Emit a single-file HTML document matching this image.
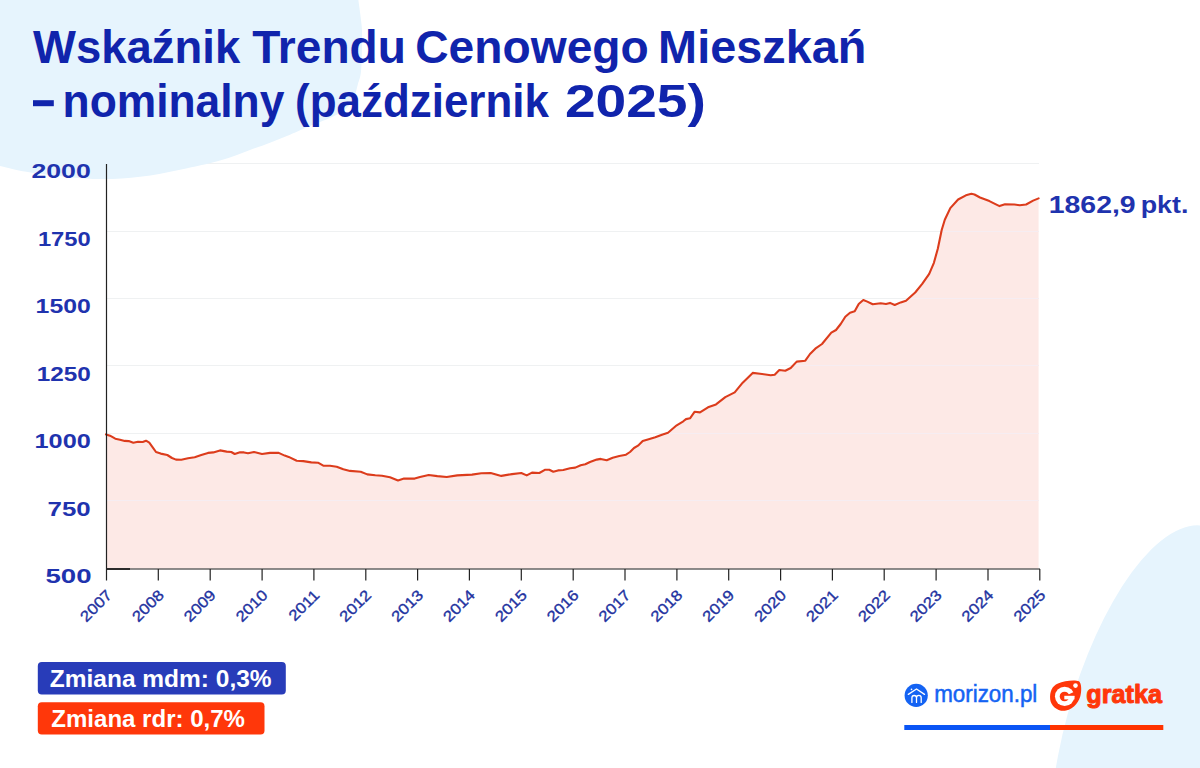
<!DOCTYPE html>
<html><head><meta charset="utf-8"><style>
html,body{margin:0;padding:0;width:1200px;height:768px;overflow:hidden;background:#fff}
svg{display:block}
text{font-family:"Liberation Sans",sans-serif}
</style></head><body>
<svg width="1200" height="768" viewBox="0 0 1200 768">
<rect width="1200" height="768" fill="#fff"/>
<g stroke="#eff1f2" stroke-width="1"><line x1="107" y1="163.5" x2="1039" y2="163.5"/><line x1="107" y1="231.5" x2="1039" y2="231.5"/><line x1="107" y1="298.5" x2="1039" y2="298.5"/><line x1="107" y1="365.5" x2="1039" y2="365.5"/><line x1="107" y1="433.5" x2="1039" y2="433.5"/><line x1="107" y1="500.5" x2="1039" y2="500.5"/></g>
<path d="M358.4,-2.0 C358.4,-1.7 357.8,-4.7 358.4,0.0 C358.9,4.7 361.1,18.5 361.7,26.0 C362.3,33.5 362.1,37.4 362.0,45.0 C361.9,52.6 361.7,65.0 361.0,71.6 C360.3,78.2 359.1,79.9 357.8,84.6 C356.5,89.3 355.5,95.7 353.2,100.0 C350.9,104.3 347.5,107.7 344.0,110.5 C340.5,113.3 336.0,115.1 332.0,117.0 C328.0,118.9 323.7,120.5 320.0,122.0 C316.3,123.5 315.0,123.9 310.0,126.0 C305.0,128.1 296.7,131.9 290.0,134.7 C283.3,137.5 276.7,140.1 270.0,142.7 C263.3,145.2 258.3,147.0 250.0,150.0 C241.7,153.0 231.7,157.2 220.0,160.5 C208.3,163.8 193.3,167.0 180.0,169.7 C166.7,172.4 154.5,175.2 140.0,176.7 C125.5,178.2 111.0,179.6 93.0,178.9 C75.0,178.2 47.5,174.8 32.0,172.7 C16.5,170.5 5.7,167.3 0.0,166.0 C-5.7,164.7 -1.7,165.2 -2.0,165.0 L-2,-2 Z" fill="#e6f4fd"/>
<ellipse cx="1148.94" cy="736.46" rx="84.29" ry="217.64" transform="rotate(15.21 1148.94 736.46)" fill="#e6f4fd"/>
<path d="M106.0,434.4 L110.0,435.7 L115.3,438.7 L120.0,439.7 L124.7,440.9 L128.7,441.1 L133.3,442.7 L138.0,441.7 L142.7,442.0 L146.0,440.7 L149.3,442.7 L152.7,447.3 L156.0,452.0 L160.7,453.6 L167.3,455.0 L172.0,458.0 L176.0,459.6 L181.3,459.7 L188.0,458.3 L194.7,457.3 L201.3,455.0 L208.0,452.9 L213.3,452.4 L220.0,450.4 L226.7,451.6 L231.3,452.0 L234.7,454.0 L240.0,452.3 L244.0,452.4 L248.0,453.3 L254.0,452.0 L262.0,454.0 L270.0,452.9 L278.7,452.9 L284.7,455.6 L288.7,456.9 L296.7,460.7 L303.3,461.1 L311.3,462.4 L318.0,462.7 L323.3,465.7 L330.0,465.7 L336.7,466.7 L343.3,469.3 L350.0,470.9 L360.7,471.7 L367.3,474.4 L375.3,475.3 L382.0,475.7 L390.0,477.3 L398.0,480.4 L404.0,478.6 L414.7,478.6 L420.0,477.0 L428.7,475.0 L437.3,476.1 L446.7,477.0 L457.3,475.4 L472.0,474.6 L481.3,473.3 L490.7,473.0 L501.3,475.9 L512.0,474.1 L521.3,473.0 L526.7,475.4 L532.0,472.6 L539.3,473.0 L545.3,469.7 L549.3,469.7 L553.3,471.7 L558.0,470.4 L563.3,470.0 L570.0,468.3 L575.3,467.6 L580.7,465.3 L585.3,464.3 L590.0,462.0 L596.7,459.6 L600.7,458.9 L606.7,460.3 L612.7,457.7 L619.3,456.0 L626.0,454.7 L630.0,452.0 L634.0,448.0 L638.0,445.7 L642.7,441.1 L648.7,439.3 L655.3,437.3 L662.0,434.7 L668.0,432.7 L676.7,425.3 L683.3,421.3 L686.0,419.1 L690.0,418.3 L694.7,411.7 L700.0,412.4 L708.0,407.3 L716.0,404.4 L725.3,397.1 L734.7,392.4 L742.7,382.7 L752.7,372.9 L760.0,373.7 L770.7,375.3 L774.7,374.7 L779.3,370.0 L785.3,370.7 L790.7,368.0 L796.7,361.6 L805.3,360.7 L810.0,354.0 L815.3,348.7 L822.0,344.0 L831.3,332.7 L836.0,330.0 L840.7,324.0 L845.3,316.7 L850.0,312.7 L854.7,311.3 L858.7,304.0 L863.3,300.0 L867.3,301.6 L872.7,304.3 L880.7,303.3 L886.0,304.0 L890.0,302.9 L894.7,305.0 L900.7,302.4 L906.0,300.7 L915.2,292.5 L922.2,283.9 L929.2,273.8 L933.9,262.8 L937.8,248.8 L941.7,230.0 L944.8,219.8 L950.3,208.1 L958.1,199.5 L965.9,195.3 L971.4,193.8 L974.5,194.5 L980.0,197.5 L989.4,201.1 L999.5,206.1 L1005.0,204.2 L1014.4,204.5 L1019.8,205.3 L1026.1,204.5 L1033.1,200.6 L1038.6,198.4 L1038.6,569 L106,569 Z" fill="#fde9e6"/>
<clipPath id="ca"><path d="M106.0,434.4 L110.0,435.7 L115.3,438.7 L120.0,439.7 L124.7,440.9 L128.7,441.1 L133.3,442.7 L138.0,441.7 L142.7,442.0 L146.0,440.7 L149.3,442.7 L152.7,447.3 L156.0,452.0 L160.7,453.6 L167.3,455.0 L172.0,458.0 L176.0,459.6 L181.3,459.7 L188.0,458.3 L194.7,457.3 L201.3,455.0 L208.0,452.9 L213.3,452.4 L220.0,450.4 L226.7,451.6 L231.3,452.0 L234.7,454.0 L240.0,452.3 L244.0,452.4 L248.0,453.3 L254.0,452.0 L262.0,454.0 L270.0,452.9 L278.7,452.9 L284.7,455.6 L288.7,456.9 L296.7,460.7 L303.3,461.1 L311.3,462.4 L318.0,462.7 L323.3,465.7 L330.0,465.7 L336.7,466.7 L343.3,469.3 L350.0,470.9 L360.7,471.7 L367.3,474.4 L375.3,475.3 L382.0,475.7 L390.0,477.3 L398.0,480.4 L404.0,478.6 L414.7,478.6 L420.0,477.0 L428.7,475.0 L437.3,476.1 L446.7,477.0 L457.3,475.4 L472.0,474.6 L481.3,473.3 L490.7,473.0 L501.3,475.9 L512.0,474.1 L521.3,473.0 L526.7,475.4 L532.0,472.6 L539.3,473.0 L545.3,469.7 L549.3,469.7 L553.3,471.7 L558.0,470.4 L563.3,470.0 L570.0,468.3 L575.3,467.6 L580.7,465.3 L585.3,464.3 L590.0,462.0 L596.7,459.6 L600.7,458.9 L606.7,460.3 L612.7,457.7 L619.3,456.0 L626.0,454.7 L630.0,452.0 L634.0,448.0 L638.0,445.7 L642.7,441.1 L648.7,439.3 L655.3,437.3 L662.0,434.7 L668.0,432.7 L676.7,425.3 L683.3,421.3 L686.0,419.1 L690.0,418.3 L694.7,411.7 L700.0,412.4 L708.0,407.3 L716.0,404.4 L725.3,397.1 L734.7,392.4 L742.7,382.7 L752.7,372.9 L760.0,373.7 L770.7,375.3 L774.7,374.7 L779.3,370.0 L785.3,370.7 L790.7,368.0 L796.7,361.6 L805.3,360.7 L810.0,354.0 L815.3,348.7 L822.0,344.0 L831.3,332.7 L836.0,330.0 L840.7,324.0 L845.3,316.7 L850.0,312.7 L854.7,311.3 L858.7,304.0 L863.3,300.0 L867.3,301.6 L872.7,304.3 L880.7,303.3 L886.0,304.0 L890.0,302.9 L894.7,305.0 L900.7,302.4 L906.0,300.7 L915.2,292.5 L922.2,283.9 L929.2,273.8 L933.9,262.8 L937.8,248.8 L941.7,230.0 L944.8,219.8 L950.3,208.1 L958.1,199.5 L965.9,195.3 L971.4,193.8 L974.5,194.5 L980.0,197.5 L989.4,201.1 L999.5,206.1 L1005.0,204.2 L1014.4,204.5 L1019.8,205.3 L1026.1,204.5 L1033.1,200.6 L1038.6,198.4 L1038.6,569 L106,569 Z"/></clipPath><g stroke="#f6edf2" stroke-width="1" clip-path="url(#ca)"><line x1="107" y1="163.5" x2="1039" y2="163.5"/><line x1="107" y1="231.5" x2="1039" y2="231.5"/><line x1="107" y1="298.5" x2="1039" y2="298.5"/><line x1="107" y1="365.5" x2="1039" y2="365.5"/><line x1="107" y1="433.5" x2="1039" y2="433.5"/><line x1="107" y1="500.5" x2="1039" y2="500.5"/></g>
<path d="M106.0,434.4 L110.0,435.7 L115.3,438.7 L120.0,439.7 L124.7,440.9 L128.7,441.1 L133.3,442.7 L138.0,441.7 L142.7,442.0 L146.0,440.7 L149.3,442.7 L152.7,447.3 L156.0,452.0 L160.7,453.6 L167.3,455.0 L172.0,458.0 L176.0,459.6 L181.3,459.7 L188.0,458.3 L194.7,457.3 L201.3,455.0 L208.0,452.9 L213.3,452.4 L220.0,450.4 L226.7,451.6 L231.3,452.0 L234.7,454.0 L240.0,452.3 L244.0,452.4 L248.0,453.3 L254.0,452.0 L262.0,454.0 L270.0,452.9 L278.7,452.9 L284.7,455.6 L288.7,456.9 L296.7,460.7 L303.3,461.1 L311.3,462.4 L318.0,462.7 L323.3,465.7 L330.0,465.7 L336.7,466.7 L343.3,469.3 L350.0,470.9 L360.7,471.7 L367.3,474.4 L375.3,475.3 L382.0,475.7 L390.0,477.3 L398.0,480.4 L404.0,478.6 L414.7,478.6 L420.0,477.0 L428.7,475.0 L437.3,476.1 L446.7,477.0 L457.3,475.4 L472.0,474.6 L481.3,473.3 L490.7,473.0 L501.3,475.9 L512.0,474.1 L521.3,473.0 L526.7,475.4 L532.0,472.6 L539.3,473.0 L545.3,469.7 L549.3,469.7 L553.3,471.7 L558.0,470.4 L563.3,470.0 L570.0,468.3 L575.3,467.6 L580.7,465.3 L585.3,464.3 L590.0,462.0 L596.7,459.6 L600.7,458.9 L606.7,460.3 L612.7,457.7 L619.3,456.0 L626.0,454.7 L630.0,452.0 L634.0,448.0 L638.0,445.7 L642.7,441.1 L648.7,439.3 L655.3,437.3 L662.0,434.7 L668.0,432.7 L676.7,425.3 L683.3,421.3 L686.0,419.1 L690.0,418.3 L694.7,411.7 L700.0,412.4 L708.0,407.3 L716.0,404.4 L725.3,397.1 L734.7,392.4 L742.7,382.7 L752.7,372.9 L760.0,373.7 L770.7,375.3 L774.7,374.7 L779.3,370.0 L785.3,370.7 L790.7,368.0 L796.7,361.6 L805.3,360.7 L810.0,354.0 L815.3,348.7 L822.0,344.0 L831.3,332.7 L836.0,330.0 L840.7,324.0 L845.3,316.7 L850.0,312.7 L854.7,311.3 L858.7,304.0 L863.3,300.0 L867.3,301.6 L872.7,304.3 L880.7,303.3 L886.0,304.0 L890.0,302.9 L894.7,305.0 L900.7,302.4 L906.0,300.7 L915.2,292.5 L922.2,283.9 L929.2,273.8 L933.9,262.8 L937.8,248.8 L941.7,230.0 L944.8,219.8 L950.3,208.1 L958.1,199.5 L965.9,195.3 L971.4,193.8 L974.5,194.5 L980.0,197.5 L989.4,201.1 L999.5,206.1 L1005.0,204.2 L1014.4,204.5 L1019.8,205.3 L1026.1,204.5 L1033.1,200.6 L1038.6,198.4" fill="none" stroke="#dc3c1c" stroke-width="2.1" stroke-linejoin="round" stroke-linecap="round"/>
<line x1="106.5" y1="164" x2="106.5" y2="569" stroke="#222" stroke-width="1.2"/>
<line x1="106" y1="569" x2="1040" y2="569" stroke="#666" stroke-width="1.6"/>
<line x1="106" y1="569" x2="130" y2="569" stroke="#222" stroke-width="1.8"/>
<g stroke="#222" stroke-width="1.2"><line x1="106.5" y1="569" x2="106.5" y2="580.5"/><line x1="158.3" y1="569" x2="158.3" y2="580.5"/><line x1="210.2" y1="569" x2="210.2" y2="580.5"/><line x1="262.1" y1="569" x2="262.1" y2="580.5"/><line x1="313.9" y1="569" x2="313.9" y2="580.5"/><line x1="365.8" y1="569" x2="365.8" y2="580.5"/><line x1="417.6" y1="569" x2="417.6" y2="580.5"/><line x1="469.4" y1="569" x2="469.4" y2="580.5"/><line x1="521.3" y1="569" x2="521.3" y2="580.5"/><line x1="573.2" y1="569" x2="573.2" y2="580.5"/><line x1="625.0" y1="569" x2="625.0" y2="580.5"/><line x1="676.9" y1="569" x2="676.9" y2="580.5"/><line x1="728.7" y1="569" x2="728.7" y2="580.5"/><line x1="780.6" y1="569" x2="780.6" y2="580.5"/><line x1="832.4" y1="569" x2="832.4" y2="580.5"/><line x1="884.2" y1="569" x2="884.2" y2="580.5"/><line x1="936.1" y1="569" x2="936.1" y2="580.5"/><line x1="988.0" y1="569" x2="988.0" y2="580.5"/><line x1="1039.8" y1="569" x2="1039.8" y2="580.5"/></g>
<text x="33.00" y="63" font-size="47" font-weight="bold" fill="#1024ac" textLength="207.18" lengthAdjust="spacingAndGlyphs">Wskaźnik</text><text x="252.20" y="63" font-size="47" font-weight="bold" fill="#1024ac" textLength="153.67" lengthAdjust="spacingAndGlyphs">Trendu</text><text x="415.28" y="63" font-size="47" font-weight="bold" fill="#1024ac" textLength="233.54" lengthAdjust="spacingAndGlyphs">Cenowego</text><text x="658.12" y="63" font-size="47" font-weight="bold" fill="#1024ac" textLength="208.26" lengthAdjust="spacingAndGlyphs">Mieszkań</text><rect x="33" y="100.2" width="20.8" height="6" fill="#1024ac"/><text x="62.55" y="117" font-size="47" font-weight="bold" fill="#1024ac" textLength="221.85" lengthAdjust="spacingAndGlyphs">nominalny</text><text x="295.10" y="117" font-size="47" font-weight="bold" fill="#1024ac" textLength="253.81" lengthAdjust="spacingAndGlyphs">(październik</text><text x="564.90" y="117" font-size="47" font-weight="bold" fill="#1024ac" textLength="141.01" lengthAdjust="spacingAndGlyphs">2025)</text>
<text x="31.40" y="178.4" font-size="20" font-weight="bold" fill="#1f33ae" textLength="59.39" lengthAdjust="spacingAndGlyphs">2000</text><text x="37.90" y="245.8" font-size="20" font-weight="bold" fill="#1f33ae" textLength="52.89" lengthAdjust="spacingAndGlyphs">1750</text><text x="35.60" y="313.2" font-size="20" font-weight="bold" fill="#1f33ae" textLength="55.19" lengthAdjust="spacingAndGlyphs">1500</text><text x="36.70" y="380.7" font-size="20" font-weight="bold" fill="#1f33ae" textLength="54.09" lengthAdjust="spacingAndGlyphs">1250</text><text x="34.50" y="448.1" font-size="20" font-weight="bold" fill="#1f33ae" textLength="56.29" lengthAdjust="spacingAndGlyphs">1000</text><text x="47.60" y="515.5" font-size="20" font-weight="bold" fill="#1f33ae" textLength="43.16" lengthAdjust="spacingAndGlyphs">750</text><text x="45.40" y="582.9" font-size="20" font-weight="bold" fill="#1f33ae" textLength="46.16" lengthAdjust="spacingAndGlyphs">500</text>
<g fill="#22329f" stroke="#22329f" stroke-width="0.35"><text transform="translate(113.0,596) rotate(-45) scale(1.13,1)" text-anchor="end" font-size="15">2007</text><text transform="translate(164.8,596) rotate(-45) scale(1.13,1)" text-anchor="end" font-size="15">2008</text><text transform="translate(216.7,596) rotate(-45) scale(1.13,1)" text-anchor="end" font-size="15">2009</text><text transform="translate(268.6,596) rotate(-45) scale(1.13,1)" text-anchor="end" font-size="15">2010</text><text transform="translate(320.4,596) rotate(-45) scale(1.13,1)" text-anchor="end" font-size="15">2011</text><text transform="translate(372.2,596) rotate(-45) scale(1.13,1)" text-anchor="end" font-size="15">2012</text><text transform="translate(424.1,596) rotate(-45) scale(1.13,1)" text-anchor="end" font-size="15">2013</text><text transform="translate(475.9,596) rotate(-45) scale(1.13,1)" text-anchor="end" font-size="15">2014</text><text transform="translate(527.8,596) rotate(-45) scale(1.13,1)" text-anchor="end" font-size="15">2015</text><text transform="translate(579.7,596) rotate(-45) scale(1.13,1)" text-anchor="end" font-size="15">2016</text><text transform="translate(631.5,596) rotate(-45) scale(1.13,1)" text-anchor="end" font-size="15">2017</text><text transform="translate(683.4,596) rotate(-45) scale(1.13,1)" text-anchor="end" font-size="15">2018</text><text transform="translate(735.2,596) rotate(-45) scale(1.13,1)" text-anchor="end" font-size="15">2019</text><text transform="translate(787.1,596) rotate(-45) scale(1.13,1)" text-anchor="end" font-size="15">2020</text><text transform="translate(838.9,596) rotate(-45) scale(1.13,1)" text-anchor="end" font-size="15">2021</text><text transform="translate(890.8,596) rotate(-45) scale(1.13,1)" text-anchor="end" font-size="15">2022</text><text transform="translate(942.6,596) rotate(-45) scale(1.13,1)" text-anchor="end" font-size="15">2023</text><text transform="translate(994.5,596) rotate(-45) scale(1.13,1)" text-anchor="end" font-size="15">2024</text><text transform="translate(1046.3,596) rotate(-45) scale(1.13,1)" text-anchor="end" font-size="15">2025</text></g>
<text x="1048.70" y="213" font-size="24" font-weight="bold" fill="#1f33ae" textLength="87.01" lengthAdjust="spacingAndGlyphs">1862,9</text><text x="1140.70" y="213" font-size="24" font-weight="bold" fill="#1f33ae" textLength="47.77" lengthAdjust="spacingAndGlyphs">pkt.</text>
<rect x="37.8" y="662" width="248" height="32.4" rx="4" fill="#283cb9"/>
<rect x="37.8" y="702.2" width="226.7" height="32.3" rx="4" fill="#ff370a"/>
<text x="49.80" y="686.5" font-size="23" font-weight="bold" fill="#fff" textLength="221.84" lengthAdjust="spacingAndGlyphs">Zmiana mdm: 0,3%</text>
<text x="51.30" y="726.5" font-size="23" font-weight="bold" fill="#fff" textLength="193.64" lengthAdjust="spacingAndGlyphs">Zmiana rdr: 0,7%</text>
<circle cx="916.2" cy="695.4" r="11.6" fill="#1463f3"/>
<g fill="none" stroke="#fff" stroke-width="1.3" stroke-linecap="round" stroke-linejoin="round">
<path d="M908.3,694.4 L916.5,689 L924.5,694.4"/>
<path d="M911.9,702.4 V697.8 A2.3,2.3 0 0 1 916.5,697.8 V702.4 M916.5,697.8 A2.3,2.3 0 0 1 921.2,697.8 V702.4"/>
</g>
<circle cx="911.5" cy="689.4" r="0.8" fill="#fff"/>
<text x="934.20" y="701.6" font-size="23.5" font-weight="normal" fill="#1463f3" textLength="103.10" lengthAdjust="spacingAndGlyphs" stroke="#1463f3" stroke-width="0.5">morizon.pl</text>
<path d="M1079,681.2 C1081.5,683 1081.5,690 1080.9,693.2 C1080,701 1074,709 1066,710.6 C1058,712 1051,706 1050.2,699.4 C1049.5,692 1052,686 1058,683.6 C1064,680.5 1075,679.5 1079,681.2 Z" fill="#ff370a"/>
<circle cx="1064.65" cy="696.35" r="9.7" fill="#fff"/>
<circle cx="1064.5" cy="696.5" r="4.8" fill="#ff370a"/>
<path d="M1064.65,696.35 L1077,690.6 L1077,696.2 Z" fill="#ff370a"/>
<rect x="1064.3" y="695.8" width="10.2" height="3.6" fill="#fff"/>
<circle cx="1075.5" cy="685.6" r="2.3" fill="#fff"/>
<text x="1086.30" y="703" font-size="25" font-weight="bold" fill="#ff370a" textLength="75.73" lengthAdjust="spacingAndGlyphs" stroke="#ff370a" stroke-width="1" stroke-linejoin="round">gratka</text>
<rect x="904.3" y="725" width="145.7" height="5" fill="#0a55f5"/>
<rect x="1050" y="725" width="113.3" height="5" fill="#ff3300"/>
</svg>
</body></html>
